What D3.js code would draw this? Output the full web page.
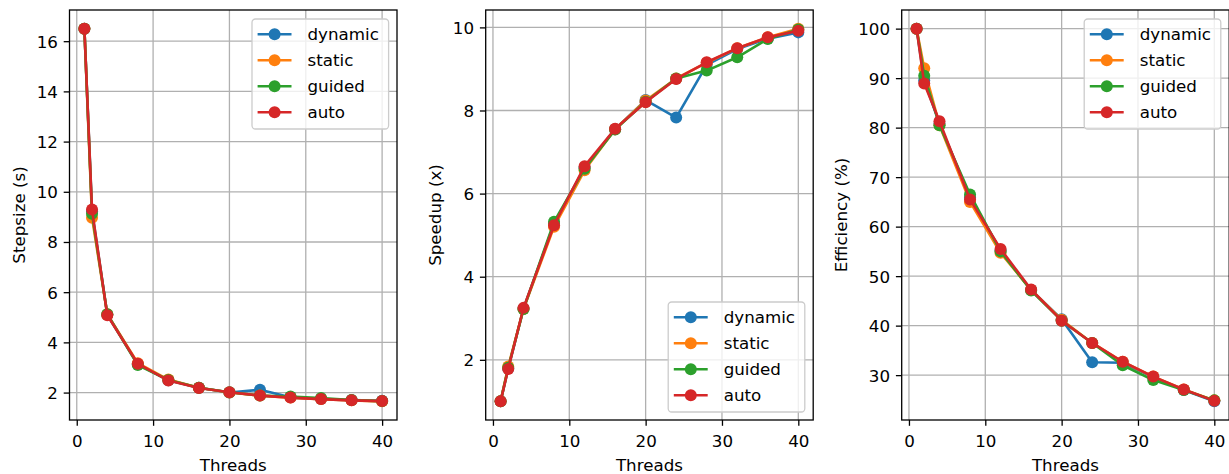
<!DOCTYPE html>
<meta charset="utf-8">
<style>
body { margin: 0; background: white; }
svg { font-family: "DejaVu Sans", sans-serif; }
.grid line { stroke: #b0b0b0; stroke-width: 1.3px; }
.axis path, .axis line { stroke: black; stroke-width: 1.3px; }
.axis text { font-size: 16.7px; fill: black; }
.label { font-size: 16.7px; fill: black; }
.line { fill: none; stroke-width: 2.6px; stroke-linejoin: round; }
</style>
<body>
<script src="https://d3js.org/d3.v7.min.js"></script>
<script>

// thread counts on the x axis
var threads = [1, 2, 4, 8, 12, 16, 20, 24, 28, 32, 36, 40];
var schedules = ["dynamic", "static", "guided", "auto"];

// stepsize in seconds
var stepDynamic = [16.5, 9.22, 5.11, 3.13, 2.49, 2.19, 2.00, 2.11, 1.81, 1.74, 1.70, 1.67];
var stepStatic  = [16.5, 8.97, 5.12, 3.17, 2.52, 2.19, 2.00, 1.88, 1.80, 1.74, 1.69, 1.65];
var stepGuided  = [16.5, 9.12, 5.12, 3.10, 2.50, 2.19, 2.01, 1.88, 1.84, 1.78, 1.70, 1.66];
var stepAuto    = [16.5, 9.29, 5.08, 3.15, 2.48, 2.18, 2.01, 1.88, 1.80, 1.74, 1.69, 1.66];

// speedup
var speedDynamic = [1.00, 1.79, 3.23, 5.27, 6.62, 7.55, 8.25, 7.83, 9.10, 9.48, 9.73, 9.88];
var speedStatic  = [1.00, 1.84, 3.22, 5.20, 6.56, 7.55, 8.24, 8.77, 9.15, 9.50, 9.76, 9.97];
var speedGuided  = [1.00, 1.81, 3.22, 5.32, 6.60, 7.54, 8.21, 8.77, 8.96, 9.28, 9.72, 9.95];
var speedAuto    = [1.00, 1.78, 3.25, 5.24, 6.66, 7.56, 8.20, 8.76, 9.16, 9.50, 9.76, 9.92];

// efficiency in percent
var effDynamic = [100, 89.5, 80.8, 65.9, 55.2, 47.2, 41.3, 32.6, 32.5, 29.6, 27.0, 24.7];
var effStatic  = [100, 92.0, 80.5, 65.0, 54.7, 47.2, 41.2, 36.5, 32.7, 29.7, 27.1, 24.9];
var effGuided  = [100, 90.5, 80.5, 66.5, 55.0, 47.1, 41.0, 36.5, 32.0, 29.0, 27.0, 24.9];
var effAuto    = [100, 88.9, 81.3, 65.5, 55.5, 47.3, 41.0, 36.5, 32.7, 29.7, 27.1, 24.8];

var xTicks = [0, 10, 20, 30, 40];
var stepTicks = [2, 4, 6, 8, 10, 12, 14, 16];
var speedTicks = [2, 4, 6, 8, 10];
var effTicks = [30, 40, 50, 60, 70, 80, 90, 100];

var colors = ["#1f77b4", "#ff7f0e", "#2ca02c", "#d62728"];

var svg = d3.select("body").append("svg")
    .attr("width", 1229)
    .attr("height", 474);

// matplotlib style 5% margins
function padded(vals) {
  var ext = d3.extent(vals);
  var m = (ext[1] - ext[0]) * 0.05;
  return [ext[0] - m, ext[1] + m];
}

function drawPanel(left, series, yTicks, ylabel, legendPos) {
  var width = 327.5, height = 410, top = 10;
  var g = svg.append("g")
      .attr("transform", "translate(" + left + "," + top + ")");

  var x = d3.scaleLinear().domain(padded(threads)).range([0, width]);
  var y = d3.scaleLinear().domain(padded(d3.merge(series))).range([height, 0]);

  // grid
  var grid = g.append("g").attr("class", "grid");
  grid.selectAll(".gx").data(xTicks).enter().append("line")
      .attr("x1", d => x(d)).attr("x2", d => x(d))
      .attr("y1", 0).attr("y2", height);
  grid.selectAll(".gy").data(yTicks).enter().append("line")
      .attr("y1", d => y(d)).attr("y2", d => y(d))
      .attr("x1", 0).attr("x2", width);

  // the series, line then markers, one after another
  series.forEach(function(vals, i) {
    var pts = threads.map((t, j) => [t, vals[j]]);
    g.append("path")
        .datum(pts)
        .attr("class", "line")
        .style("stroke", colors[i])
        .attr("d", d3.line().x(d => x(d[0])).y(d => y(d[1])));
    g.selectAll(".m" + i).data(pts).enter().append("circle")
        .attr("cx", d => x(d[0]))
        .attr("cy", d => y(d[1]))
        .attr("r", 6)
        .style("fill", colors[i]);
  });

  // frame
  g.append("rect")
      .attr("width", width).attr("height", height)
      .style("fill", "none").style("stroke", "black").style("stroke-width", 1.3);

  // axes
  var xa = g.append("g")
      .attr("class", "axis")
      .attr("transform", "translate(0," + height + ")")
      .call(d3.axisBottom(x).tickValues(xTicks).tickSize(5.8).tickSizeOuter(0).tickPadding(5.8));
  xa.select(".domain").remove();
  xa.selectAll("text").attr("dy", "0.93em").style("font-family", "DejaVu Sans");

  var ya = g.append("g")
      .attr("class", "axis")
      .call(d3.axisLeft(y).tickValues(yTicks).tickSize(5.8).tickSizeOuter(0).tickPadding(5.8));
  ya.select(".domain").remove();
  ya.selectAll("text").attr("dy", "0.36em").style("font-family", "DejaVu Sans");

  // axis labels
  g.append("text")
      .attr("class", "label")
      .attr("x", width / 2)
      .attr("y", 461)
      .style("text-anchor", "middle")
      .text("Threads");

  var bb = ya.node().getBBox();
  g.append("text")
      .attr("class", "label")
      .attr("transform", "translate(" + (bb.x - 11.5) + "," + (height / 2) + ") rotate(-90)")
      .style("text-anchor", "middle")
      .text(ylabel);

  // legend
  var lw = 136.6, lh = 110;
  var lx = width - 8.4 - lw;
  var ly = legendPos == "upper" ? 9 : height - 8 - lh;
  var leg = g.append("g").attr("transform", "translate(" + lx + "," + ly + ")");
  leg.append("rect")
      .attr("width", lw).attr("height", lh)
      .attr("rx", 3.5).attr("ry", 3.5)
      .style("fill", "white").style("fill-opacity", 0.8)
      .style("stroke", "#cccccc").style("stroke-width", 1.3);
  schedules.forEach(function(name, i) {
    var cy = 15.3 + i * 26;
    leg.append("line")
        .attr("x1", 5.6).attr("x2", 39.5)
        .attr("y1", cy).attr("y2", cy)
        .style("stroke", colors[i]).style("stroke-width", 2.6);
    leg.append("circle")
        .attr("cx", 22.6).attr("cy", cy).attr("r", 6)
        .style("fill", colors[i]);
    leg.append("text")
        .attr("class", "label")
        .attr("x", 55.5).attr("y", cy + 5.8)
        .text(name);
  });
}

drawPanel(69.5, [stepDynamic, stepStatic, stepGuided, stepAuto], stepTicks, "Stepsize (s)", "upper");
drawPanel(485.7, [speedDynamic, speedStatic, speedGuided, speedAuto], speedTicks, "Speedup (x)", "lower");
drawPanel(901.7, [effDynamic, effStatic, effGuided, effAuto], effTicks, "Efficiency (%)", "upper");

</script>
</body>
